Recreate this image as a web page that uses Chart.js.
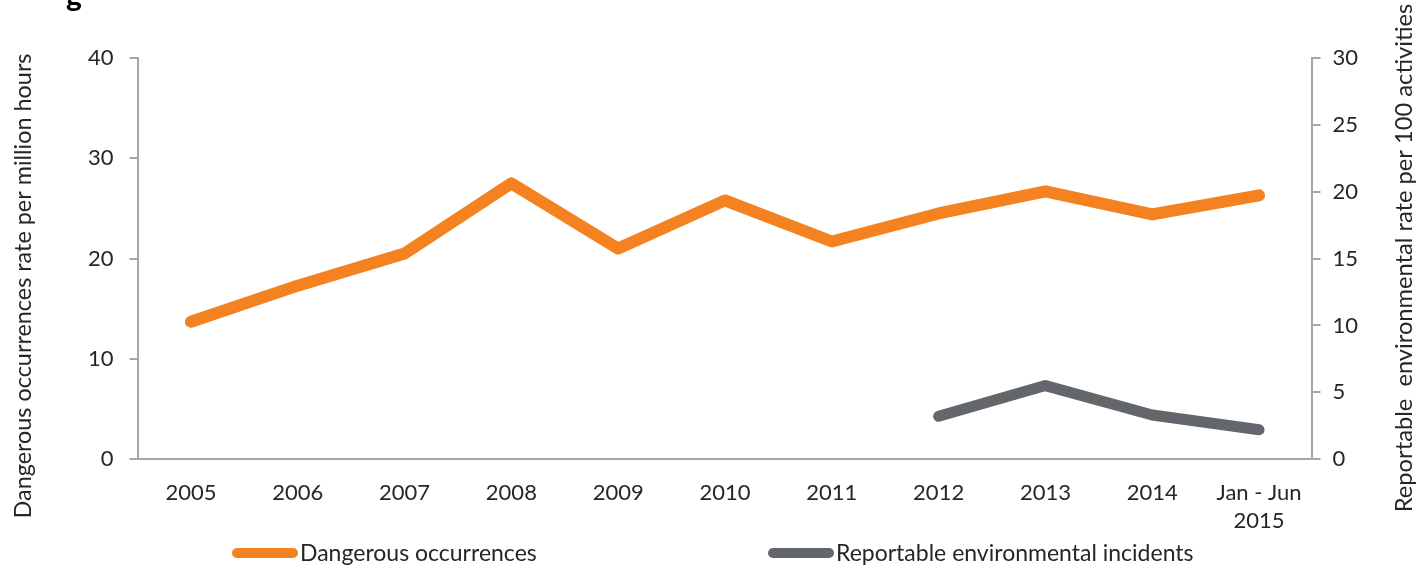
<!DOCTYPE html>
<html>
<head>
<meta charset="utf-8">
<script src="https://cdn.jsdelivr.net/npm/chart.js@4.4.1/dist/chart.umd.min.js"></script>
<style>
  html, body { margin: 0; padding: 0; background: #fff; }
  #wrap { position: relative; width: 1416px; height: 569px; overflow: hidden; }
  #frag { position: absolute; left: 66px; top: -24px; font: bold 30px Lato, sans-serif; color: #000; }
  .leg { position: absolute; top: 538px; font: 23px Lato, sans-serif; color: #262626; white-space: nowrap; line-height: 28px; }
  .leg i { display: inline-block; width: 66px; height: 10px; border-radius: 5px; margin-right: 2px; vertical-align: middle; position: relative; top: -2px; }
</style>
</head>
<body>
<div id="wrap">
  <span id="frag">g</span>
  <canvas id="chart" width="1416" height="569"></canvas>
  <div class="leg" style="left:232px"><i style="background:#F58220"></i>Dangerous occurrences</div>
  <div class="leg" style="left:768px"><i style="background:#63666A"></i>Reportable environmental incidents</div>
</div>
<script>
// categories and series
const years = ['2005', '2006', '2007', '2008', '2009', '2010', '2011', '2012', '2013', '2014', ['Jan - Jun', '2015']];
const dangerous = [13.7, 17.3, 20.5, 27.5, 21.0, 25.8, 21.7, 24.5, 26.7, 24.4, 26.3];
const environmental = [null, null, null, null, null, null, null, 3.2, 5.5, 3.3, 2.2];
const leftTicks = [0, 10, 20, 30, 40];
const rightTicks = [0, 5, 10, 15, 20, 25, 30];
const leftTitle = 'Dangerous occurrences rate per million hours';
const rightTitle = 'Reportable  environmental rate per 100 activities';

const orange = '#F58220';
const grey = '#63666A';
const axisGrey = '#A6A6A6';
const textCol = '#262626';
const font = 'Lato, "Open Sans", sans-serif';

// axis titles: both read bottom-to-top, like the original
const sideTitles = {
    id: 'sideTitles',
    afterDraw(chart) {
        const c = chart.ctx;
        const draw = (text, x, yc, len) => {
            c.save();
            c.font = '22px ' + font;
            const w = c.measureText(text).width;
            const size = 22 * len / w;
            c.font = size.toFixed(1) + 'px ' + font;
            c.fillStyle = textCol;
            c.textAlign = 'center';
            c.textBaseline = 'middle';
            c.translate(x, yc);
            c.rotate(-Math.PI / 2);
            c.fillText(text, 0, 0);
            c.restore();
        };
        draw(leftTitle, 23, 286, 466);
        draw(rightTitle, 1404, 258, 508);
    }
};

const ctx = document.getElementById('chart').getContext('2d');
new Chart(ctx, {
    type: 'line',
    data: {
        labels: years,
        datasets: [
            {
                label: 'Dangerous occurrences',
                data: dangerous,
                borderColor: orange,
                backgroundColor: orange,
                borderWidth: 12,
                borderCapStyle: 'round',
                borderJoinStyle: 'round',
                pointRadius: 0,
                tension: 0,
                yAxisID: 'y'
            },
            {
                label: 'Reportable environmental incidents',
                data: environmental,
                borderColor: grey,
                backgroundColor: grey,
                borderWidth: 11,
                borderCapStyle: 'round',
                borderJoinStyle: 'round',
                pointRadius: 0,
                tension: 0,
                yAxisID: 'y1'
            }
        ]
    },
    plugins: [sideTitles],
    options: {
        responsive: false,
        animation: false,
        layout: { padding: { left: 72, right: 46, top: 58, bottom: 14 } },
        plugins: {
            tooltip: { enabled: false },
            legend: { display: false }
        },
        scales: {
            x: {
                offset: true,
                grid: { display: false, drawTicks: false },
                border: { display: true, color: axisGrey, width: 2 },
                ticks: { color: textCol, font: { family: font, size: 22, lineHeight: 1.27 }, padding: 20, maxRotation: 0 }
            },
            y: {
                position: 'left',
                min: 0,
                max: 40,
                afterBuildTicks: axis => { axis.ticks = leftTicks.map(v => ({ value: v })); },
                grid: { drawOnChartArea: false, drawTicks: true, tickLength: 8, color: axisGrey, lineWidth: 2 },
                border: { display: true, color: axisGrey, width: 2 },
                ticks: { color: textCol, font: { family: font, size: 22 }, padding: 16 }
            },
            y1: {
                position: 'right',
                min: 0,
                max: 30,
                afterBuildTicks: axis => { axis.ticks = rightTicks.map(v => ({ value: v })); },
                grid: { drawOnChartArea: false, drawTicks: true, tickLength: 8, color: axisGrey, lineWidth: 2 },
                border: { display: true, color: axisGrey, width: 2 },
                ticks: { color: textCol, font: { family: font, size: 22 }, padding: 12 }
            }
        }
    }
});
</script>
</body>
</html>
